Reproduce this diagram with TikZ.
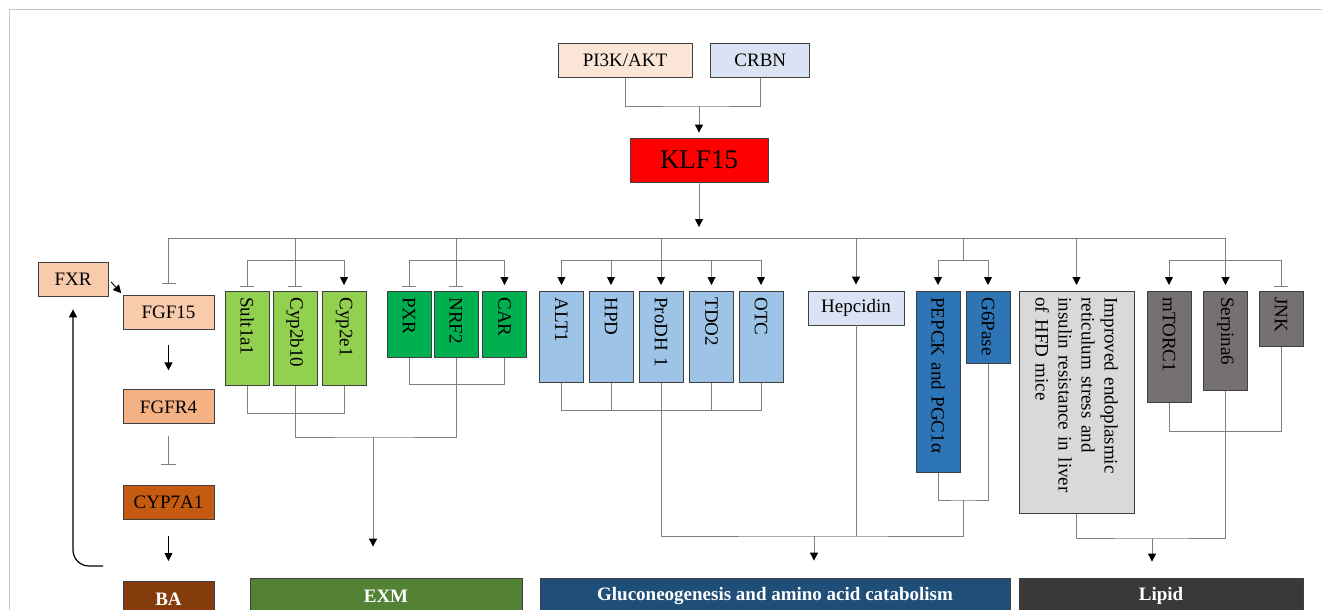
\documentclass[tikz,border=0pt]{standalone}
\usepackage{fontspec}
\setmainfont{Liberation Serif}
\usetikzlibrary{arrows.meta,positioning}
\definecolor{edge}{HTML}{404040}
\definecolor{wire}{HTML}{7F7F7F}
\definecolor{framegray}{HTML}{C4C4C4}
\definecolor{pipeach}{HTML}{FBE5D6}
\definecolor{paleblue}{HTML}{DAE3F3}
\definecolor{peach}{HTML}{F8CBAD}
\definecolor{tan}{HTML}{F4B183}
\definecolor{rust}{HTML}{C55A11}
\definecolor{brown}{HTML}{843C0C}
\definecolor{lime}{HTML}{92D050}
\definecolor{leaf}{HTML}{00B050}
\definecolor{sky}{HTML}{9DC3E6}
\definecolor{ocean}{HTML}{2E75B6}
\definecolor{mist}{HTML}{D9D9D9}
\definecolor{taupe}{HTML}{767171}
\definecolor{moss}{HTML}{548235}
\definecolor{navy}{HTML}{1F4E79}
\definecolor{coal}{HTML}{3B3838}
\tikzstyle{flat} = [rectangle, draw=edge, line width=0.8pt, minimum height=34pt,
    inner sep=2pt, font=\fontsize{19}{22}\selectfont]
\tikzstyle{upright} = [rectangle, draw=edge, line width=0.8pt, rotate=-90, anchor=west,
    align=left, minimum height=44pt, inner xsep=6pt, font=\fontsize{19}{23}\selectfont]
\tikzstyle{outcome} = [rectangle, draw=edge, line width=0.8pt, minimum height=36pt,
    text=white, font=\fontsize{19}{22}\selectfont\bfseries]

\begin{document}
\begin{tikzpicture}[x=1pt,y=-1pt,
                    link/.style={draw=wire, line width=0.9pt},
                    act/.style={link, -{Triangle[width=8pt,length=8pt,color=black]}, shorten >=6pt},
                    inh/.style={link, -{Bar[width=14pt]}, shorten >=4pt},
                    bact/.style={draw=black, line width=0.9pt, -{Triangle[width=8pt,length=8pt]}},
                    binh/.style={draw=wire, line width=0.9pt, -{Bar[width=15pt]}}]

  \useasboundingbox (0,0) rectangle (1322,610);
  \clip (0,0) rectangle (1322,610);
  \draw[framegray, line width=1.5pt] (9.5,610) -- (9.5,9.5) -- (1322,9.5);

  % upstream of KLF15
  \node[flat, fill=pipeach, minimum width=134pt] (pik) at (625,60.5) {PI3K/AKT};
  \node[flat, fill=paleblue, minimum width=99pt, right=18pt of pik] (crbn) {CRBN};
  \node[flat, fill=red, minimum width=138pt, minimum height=44pt,
        font=\fontsize{27}{30}\selectfont] (klf) at (699,160) {KLF15};

  % bile acid axis
  \node[flat, fill=peach, minimum width=70pt] (fxr) at (73,279) {FXR};
  \node[flat, fill=peach, minimum width=91pt] (fgf) at (168.5,312) {FGF15};
  \node[flat, fill=tan, minimum width=91pt, below=60pt of fgf] (fgfr) {FGFR4};
  \node[flat, fill=rust, minimum width=91pt, below=61pt of fgfr] (cyp) {CYP7A1};
  \node[outcome, fill=brown, minimum width=91pt, below=61pt of cyp] (ba) {BA};

  % target genes
  \node[upright, fill=lime, text width=82pt] (s1) at (247,291) {Sult1a1};
  \node[upright, fill=lime, text width=82pt] (c2) at (295,291) {Cyp2b10};
  \node[upright, fill=lime, text width=82pt] (c3) at (344,291) {Cyp2e1};
  \node[upright, fill=leaf, text width=54pt] (pxr) at (409,291) {PXR};
  \node[upright, fill=leaf, text width=54pt] (nrf) at (456,291) {NRF2};
  \node[upright, fill=leaf, text width=54pt] (car) at (504.5,291) {CAR};
  \node[upright, fill=sky, text width=79pt] (alt) at (561.5,291) {ALT1};
  \node[upright, fill=sky, text width=79pt] (hpd) at (611,291) {HPD};
  \node[upright, fill=sky, text width=79pt] (pro) at (661,291) {ProDH 1};
  \node[upright, fill=sky, text width=79pt] (tdo) at (711.5,291) {TDO2};
  \node[upright, fill=sky, text width=79pt] (otc) at (761,291) {OTC};
  \node[flat, fill=paleblue, minimum width=96pt] (hep) at (856,308) {Hepcidin};
  \node[upright, fill=ocean, text width=169pt] (pep) at (938,291) {PEPCK and PGC1α};
  \node[upright, fill=ocean, text width=60pt] (g6) at (988,291) {G6Pase};
  \node[upright, fill=mist, text width=210pt, minimum height=115pt] (imp) at (1076.5,291)
       {Improved endoplasmic\\reticulum stress and\\insulin resistance in liver\\of HFD mice};
  \node[upright, fill=taupe, text width=99pt] (mtor) at (1169,291) {mTORC1};
  \node[upright, fill=taupe, text width=87pt] (serp) at (1225.5,291) {Serpina6};
  \node[upright, fill=taupe, text width=43pt] (jnk) at (1281,291) {JNK};

  % outcomes
  \node[outcome, fill=moss, minimum width=272pt] (exm) at (386,596) {EXM};
  \node[outcome, fill=navy, minimum width=470pt] (glu) at (775,596)
       {Gluconeogenesis and amino acid catabolism};
  \node[outcome, fill=coal, minimum width=284pt] (lip) at (1161,596) {Lipid};

  \coordinate (upjoin) at (699,106);
  \coordinate (busL) at (168.5,238);
  \coordinate (busR) at (1225.5,238);
  \coordinate (fork) at (0,260);
  \coordinate (exmjoin) at (373,437);
  \coordinate (pepjoin) at (963,500);
  \coordinate (glujoin) at (814,536);
  \coordinate (lipjoin) at (1152,538);
  \coordinate (loopstart) at (103,566);

  \draw[link] (pik.south) |- (upjoin) -| (crbn.south);
  \draw[act, shorten >=5pt] (upjoin) -- (klf.north);
  \draw[act, shorten >=11pt] (klf.south) -- (klf.south |- busL);
  \draw[inh, shorten >=11pt] (busR) -- (busL) -- (fgf.north);
  \draw[act] (busR) -- (serp.west);

  % EXM branch
  \draw[inh] (c2.west |- busL) -- (c2.west);
  \draw[inh] (c2.west |- fork) -| (s1.west);
  \draw[act] (c2.west |- fork) -| (c3.west);
  \draw[inh] (nrf.west |- busL) -- (nrf.west);
  \draw[inh] (nrf.west |- fork) -| (pxr.west);
  \draw[act] (nrf.west |- fork) -| (car.west);
  \draw[link] (s1.east) -- ++(0,28) -| (c3.east);
  \draw[link] (pxr.east) -- ++(0,27) -| (car.east);
  \draw[link] (c2.east) |- (exmjoin) -| (nrf.east);
  \draw[act, shorten >=31pt] (exmjoin) -- (exmjoin |- exm.north);

  % gluconeogenesis branch
  \draw[act] (pro.west |- busL) -- (pro.west);
  \foreach \g in {alt,hpd,tdo,otc}
    \draw[act] (pro.west |- fork) -| (\g.west);
  \draw[link] (alt.east) -- ++(0,28) -| (otc.east);
  \draw[link] (hpd.east) -- ++(0,28);
  \draw[link] (tdo.east) -- ++(0,28);
  \draw[act] (hep.north |- busL) -- (hep.north);
  \draw[link] (pepjoin |- busL) -- (pepjoin |- fork);
  \draw[act] (pepjoin |- fork) -| (pep.west);
  \draw[act] (pepjoin |- fork) -| (g6.west);
  \draw[link] (pep.east) |- (pepjoin) -| (g6.east);
  \draw[link] (pro.east) |- (glujoin) -- (glujoin -| pepjoin) -- (pepjoin);
  \draw[link] (hep.south) -- (hep.south |- glujoin);
  \draw[act, shorten >=17pt] (glujoin) -- (glujoin |- glu.north);

  % lipid branch
  \draw[act] (imp.west |- busL) -- (imp.west);
  \draw[act] (serp.west |- fork) -| (mtor.west);
  \draw[inh] (serp.west |- fork) -| (jnk.west);
  \draw[link] (mtor.east) -- ++(0,29) -| (jnk.east);
  \draw[link] (imp.east) |- (lipjoin) -| (serp.east);
  \draw[act, shorten >=16pt] (lipjoin) -- (lipjoin |- lip.north);

  % bile acid feedback
  \draw[bact, shorten <=4pt, shorten >=2pt] (fxr.east) -- (fgf.north west);
  \draw[bact, shorten <=16pt, shorten >=19pt] (fgf.south) -- (fgfr.north);
  \draw[binh, shorten <=12pt, shorten >=20pt] (fgfr.south) -- (cyp.north);
  \draw[bact, shorten <=16pt, shorten >=20pt] (cyp.south) -- (ba.north);
  \draw[bact, line width=1.2pt, rounded corners=16pt, shorten >=13pt] (loopstart) -| (fxr.south);
\end{tikzpicture}
\end{document}
